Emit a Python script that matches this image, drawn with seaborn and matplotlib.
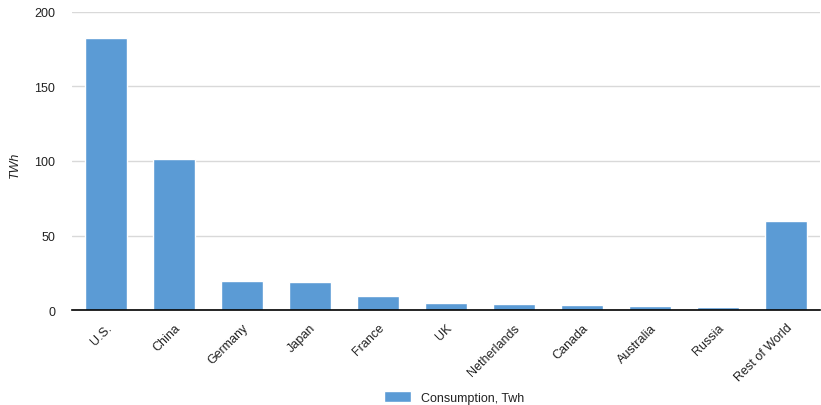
import matplotlib
matplotlib.use("Agg")
import matplotlib.pyplot as plt
import seaborn as sns
import pandas as pd

categories = ["U.S.", "China", "Germany", "Japan", "France", "UK", "Netherlands",
              "Canada", "Australia", "Russia", "Rest of World"]
consumption = [182.2, 101.1, 19.6, 18.9, 9.4, 5.2, 4.5, 3.8, 3.2, 2.3, 59.6]
y_ticks = [0, 50, 100, 150, 200]
series_name = "Consumption, Twh"

sns.set_style("white")
plt.rcParams['font.family'] = ['Liberation Sans', 'DejaVu Sans']

df = pd.DataFrame({"country": categories, "value": consumption})

fig = plt.figure(figsize=(8.21, 4.06), dpi=100)
ax = fig.add_axes([0.0877, 0.2333, 0.9113, 0.7354])

sns.barplot(data=df, x="country", y="value", color="#5b9bd5", width=0.615,
            saturation=1, ax=ax, zorder=3, label=series_name)

fs = 9
ax.set_ylim(0, 200)
ax.set_yticks(y_ticks)
ax.set_yticklabels([str(t) for t in y_ticks], fontsize=fs, color="#222222")
ax.set_xlim(-0.5, len(categories) - 0.5)
ax.grid(axis="y", color="#d9d9d9", linewidth=1, zorder=0)
ax.grid(axis="x", visible=False)
for s in ["top", "right", "left"]:
    ax.spines[s].set_visible(False)
ax.spines["bottom"].set_color("black")
ax.spines["bottom"].set_linewidth(1.2)
ax.spines["bottom"].set_zorder(5)
ax.tick_params(axis="both", length=0)
ax.tick_params(axis="y", pad=12)
ax.tick_params(axis="x", pad=8)
ax.set_xlabel("")
ax.set_ylabel("TWh", fontstyle="italic", fontsize=fs, color="#222222")
ax.yaxis.set_label_coords(-0.068, 0.49)
for lbl in ax.get_xticklabels():
    lbl.set_rotation(45)
    lbl.set_ha("right")
    lbl.set_va("top")
    lbl.set_rotation_mode("anchor")
    lbl.set_fontsize(fs)
    lbl.set_color("#222222")

leg = ax.legend(loc="lower center", bbox_to_anchor=(0.511, -0.35), frameon=False,
                fontsize=fs, handlelength=2.2, handleheight=1.0)
for t in leg.get_texts():
    t.set_color("#222222")

fig.savefig("out.png", dpi=100)
